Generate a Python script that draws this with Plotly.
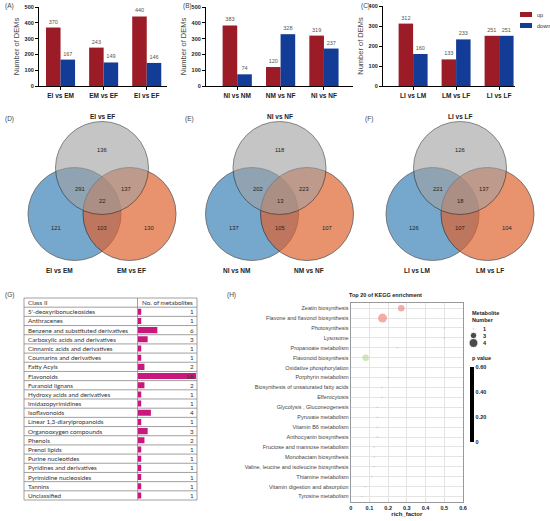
import plotly.graph_objects as go

W, H = 550, 521

# (A)-(C) numbers of DEMs
groups_a = ['EI vs EM', 'EM vs EF', 'EI vs EF']
up_a = [370, 243, 440]
down_a = [167, 149, 146]
groups_b = ['NI vs NM', 'NM vs NF', 'NI vs NF']
up_b = [383, 120, 319]
down_b = [74, 328, 237]
groups_c = ['LI vs LM', 'LM vs LF', 'LI vs LF']
up_c = [312, 133, 251]
down_c = [160, 233, 251]

# (D)-(F) Venn: sets [top, left, right],
# counts [top, top&left, top&right, all, left, left&right, right]
venn_sets_d = ['EI vs EF', 'EI vs EM', 'EM vs EF']
venn_counts_d = [136, 291, 137, 22, 121, 103, 130]
venn_sets_e = ['NI vs NF', 'NI vs NM', 'NM vs NF']
venn_counts_e = [118, 202, 223, 13, 137, 105, 107]
venn_sets_f = ['LI vs LF', 'LI vs LM', 'LM vs LF']
venn_counts_f = [126, 221, 137, 18, 126, 107, 104]

# (G) class II table
class_ii = ["5'-deoxyribonucleosides", 'Anthracenes', 'Benzene and substituted derivatives',
            'Carboxylic acids and derivatives', 'Cinnamic acids and derivatives',
            'Coumarins and derivatives', 'Fatty Acyls', 'Flavonoids', 'Furanoid lignans',
            'Hydroxy acids and derivatives', 'Imidazopyrimidines', 'Isoflavonoids',
            'Linear 1,3-diarylpropanoids', 'Organooxygen compounds', 'Phenols', 'Prenol lipids',
            'Purine nucleotides', 'Pyridines and derivatives', 'Pyrimidine nucleosides',
            'Tannins', 'Unclassified']
n_metabolites = [1, 1, 6, 3, 1, 1, 2, 18, 2, 1, 1, 4, 1, 3, 2, 1, 1, 1, 1, 1, 1]

# (H) KEGG enrichment
pathways = ['Zeatin biosynthesis', 'Flavone and flavonol biosynthesis', 'Photosynthesis',
            'Lysosome', 'Propanoate metabolism', 'Flavonoid biosynthesis',
            'Oxidative phosphorylation', 'Porphyrin metabolism',
            'Biosynthesis of unsaturated fatty acids', 'Efferocytosis',
            'Glycolysis , Gluconeogenesis', 'Pyruvate metabolism', 'Vitamin B6 metabolism',
            'Anthocyanin biosynthesis', 'Fructose and mannose metabolism',
            'Monobactam biosynthesis', 'Valine, leucine and isoleucine biosynthesis',
            'Thiamine metabolism', 'Vitamin digestion and absorption', 'Tyrosine metabolism']
rich_factor = [0.27, 0.17, 0.5, 0.5, 0.25, 0.08, 0.2, 0.2, 0.167, 0.167,
               0.143, 0.143, 0.143, 0.143, 0.125, 0.125, 0.125, 0.111, 0.077, 0.059]
metab_number = [3, 4, 1, 1, 1, 3, 1, 1, 1, 1, 1, 1, 1, 1, 1, 1, 1, 1, 1, 1]
p_value = [0.02, 0.01, 0.6, 0.6, 0.6, 0.3, 0.6, 0.6, 0.6, 0.6,
           0.6, 0.6, 0.6, 0.6, 0.6, 0.6, 0.6, 0.6, 0.6, 0.6]
size_legend = [1, 3, 4]

FONT = 'Liberation Sans'
RED, BLUE = '#9B1C26', '#123C96'


def fx(p):
    return p / W


def fy(p):
    return 1 - p / H


def dot_size(n):
    return 2.5 * n - 1


fig = go.Figure()
layout = {}
ann = []
shapes = []


def note(x, y, text, size=6, bold=False, color='#333', xanchor='center', family=FONT):
    ann.append(dict(x=x, y=y, xref='x6', yref='y6', text=text, showarrow=False,
                    xanchor=xanchor, yanchor='middle',
                    font=dict(size=size, color=color, family=family,
                              weight='bold' if bold else 'normal')))


# ---- bar panels
bar_panels = [
    ('', groups_a, up_a, down_a, 500, (39, 167), [-0.5, 2.47], '(A)', 3),
    ('2', groups_b, up_b, down_b, 500, (206, 353), [-0.72, 2.67], '(B)', 181),
    ('3', groups_c, up_c, down_c, 400, (383, 515), [-0.7, 2.37], '(C)', 359),
]
for k, groups, up, down, ymax, (x0, x1), xr, lab, lab_x in bar_panels:
    for name, vals, col in [('up', up, RED), ('down', down, BLUE)]:
        fig.add_trace(go.Bar(x=groups, y=vals, name=name, marker_color=col,
                             marker_line_width=0, text=vals, textposition='outside',
                             textfont=dict(size=5.5, color='#555', family=FONT),
                             cliponaxis=False, showlegend=False,
                             xaxis='x' + k, yaxis='y' + k))
    layout['xaxis' + k] = dict(domain=[fx(x0), fx(x1)], anchor='y' + k, range=xr,
                               showline=True, linecolor='black', linewidth=1.2,
                               ticks='outside', ticklen=3, tickcolor='black', automargin=False,
                               tickfont=dict(size=6.5, family=FONT, color='#222', weight='bold'))
    top = 7 if ymax == 500 else 6
    layout['yaxis' + k] = dict(domain=[fy(86), fy(top)], anchor='x' + k, range=[0, ymax],
                               dtick=100, showline=True, linecolor='black', linewidth=1.2,
                               ticks='outside', ticklen=3, tickcolor='black', showgrid=False,
                               zeroline=False, automargin=False,
                               tickfont=dict(size=5.5, family=FONT, color='#222', weight='bold'),
                               title=dict(text='Number of DEMs', standoff=3,
                                          font=dict(size=7.5, family=FONT, color='#444')))
    note(lab_x, 6, lab, size=6.5, color='#444', xanchor='left')

# legend for up/down
for name, col, yy in [('up', RED, 14.5), ('down', BLUE, 25.5)]:
    shapes.append(dict(type='rect', xref='x6', yref='y6', x0=520, x1=532,
                       y0=yy - 2.5, y1=yy + 2.5, fillcolor=col, line_width=0))
    note(534.5, yy, name, size=5.6, color='#333', xanchor='left')

# ---- Venn panels
venn_panels = [(102, venn_sets_d, venn_counts_d, '(D)', 3),
               (279.5, venn_sets_e, venn_counts_e, '(E)', 183),
               (460, venn_sets_f, venn_counts_f, '(F)', 363)]
R = 46.5
for tx, sets, counts, lab, lab_x in venn_panels:
    ty = 168
    circles = [(tx - 27.5, ty + 46, '#2E7BB5', 0.65),
               (tx + 27.5, ty + 46, '#E0612A', 0.68),
               (tx, ty, '#A0A0A0', 0.6)]
    for cx, cy, col, op in circles:
        shapes.append(dict(type='circle', xref='x6', yref='y6', x0=cx - R, x1=cx + R,
                           y0=cy - R, y1=cy + R, fillcolor=col, opacity=op,
                           line=dict(color='#222', width=0.9), layer='below'))
    offsets = [(0, -18), (-22, 21), (24, 21), (0, 33), (-46, 60), (0, 60), (47, 60)]
    for (dx, dy), c in zip(offsets, counts):
        note(tx + dx, ty + dy, str(c), size=5.8, color='#222')
    note(tx, 116, sets[0], size=6.5, bold=True, color='#222')
    note(tx - 43, 270, sets[1], size=6.5, bold=True, color='#222')
    note(tx + 29.5, 270, sets[2], size=6.5, bold=True, color='#222')
    note(lab_x, 119, lab, size=6.5, color='#444', xanchor='left')

# ---- (G) table
t_top, t_bot, t_l, t_mid, t_r = 298, 500, 24, 137.5, 197
rh = (t_bot - t_top) / (len(class_ii) + 1)
fig.add_trace(go.Bar(x=n_metabolites, y=class_ii, orientation='h', marker_color='#C9177E',
                     marker_line_width=0, width=0.66, showlegend=False,
                     xaxis='x4', yaxis='y4'))
layout['xaxis4'] = dict(domain=[fx(t_mid + 0.5), fx(t_r)], anchor='y4', range=[0, 18.3],
                        visible=False, fixedrange=True, automargin=False)
layout['yaxis4'] = dict(domain=[fy(t_bot), fy(t_top + rh)], anchor='x4', automargin=False,
                        range=[len(class_ii) - 0.5, -0.5], visible=False, fixedrange=True)
for i in range(len(class_ii) + 2):
    yy = t_top + i * rh
    shapes.append(dict(type='line', xref='x6', yref='y6', x0=t_l, x1=t_r, y0=yy, y1=yy,
                       line=dict(color='#888', width=0.8), layer='above'))
for xx in (t_l, t_mid, t_r):
    shapes.append(dict(type='line', xref='x6', yref='y6', x0=xx, x1=xx, y0=t_top, y1=t_bot,
                       line=dict(color='#888', width=0.8), layer='above'))
note(t_l + 2, t_top + rh / 2, 'Class II', size=6.3, color='#333', xanchor='left', family='Lato')
note(t_mid + 2, t_top + rh / 2, 'No. of metabolites', size=6.3, color='#333',
     xanchor='left', family='Lato')
for i, (c, n) in enumerate(zip(class_ii, n_metabolites)):
    yy = t_top + (i + 1.5) * rh
    note(t_l + 2, yy, c, size=6.3, color='#333', xanchor='left', family='Lato')
    note(t_r - 1, yy, str(n), size=6.3, color='#333', xanchor='right', family='Lato')
note(3, 295, '(G)', size=6.5, color='#444', xanchor='left')

# ---- (H) KEGG bubbles
dot_colors = ['#F08A84' if p < 0.05 else ('#B9DB9A' if p < 0.5 else '#BDBDBD')
              for p in p_value]
fig.add_trace(go.Scatter(x=rich_factor, y=pathways, mode='markers', showlegend=False,
                         marker=dict(size=[dot_size(n) for n in metab_number],
                                     color=dot_colors, line_width=0),
                         cliponaxis=False, xaxis='x5', yaxis='y5'))
fig.add_trace(go.Scatter(x=[None], y=[None], mode='markers', showlegend=False,
                         marker=dict(color=[0.3], cmin=0, cmax=0.6,
                                     colorscale=[[0, 'black'], [1, 'black']], showscale=True,
                                     colorbar=dict(x=fx(470), xanchor='left', y=fy(367),
                                                   yanchor='top', len=75 / H, thickness=4,
                                                   xpad=0, ypad=0, outlinewidth=0, ticks='',
                                                   tickvals=[0, 0.2, 0.4, 0.6],
                                                   ticktext=['0', '0.20', '0.40', '0.60'],
                                                   tickfont=dict(size=5.5, family=FONT,
                                                                 color='#222', weight='bold'))),
                         xaxis='x5', yaxis='y5'))
layout['xaxis5'] = dict(domain=[fx(350.7), fx(463)], anchor='y5', range=[0, 0.6], dtick=0.1,
                        showgrid=True, gridcolor='#E4E4E4', gridwidth=1.3, zeroline=False,
                        showline=True, mirror=True, linecolor='#999', linewidth=1,
                        tickformat='.1~f', ticks='', automargin=False,
                        tickfont=dict(size=5.5, family=FONT, color='#222', weight='bold'),
                        title=dict(text='rich_factor', standoff=1,
                                   font=dict(size=6, family=FONT, color='#222', weight='bold')))
layout['yaxis5'] = dict(domain=[fy(502), fy(302.7)], anchor='x5', range=[19.55, -0.55],
                        showgrid=True, gridcolor='#E4E4E4', gridwidth=1.3, zeroline=False,
                        showline=True, mirror=True, linecolor='#999', linewidth=1, ticks='',
                        automargin=False, tickfont=dict(size=5.5, family=FONT, color='#444'))
note(385, 295, 'Top 20 of KEGG enrichment', size=5.5, bold=True, color='#222')
note(225, 295, '(H)', size=6.5, color='#444', xanchor='left')
ann.append(dict(x=470, y=316, xref='x6', yref='y6', text='Metabolite<br>Number',
                showarrow=False, xanchor='left', yanchor='middle', align='left',
                font=dict(size=5.5, family=FONT, color='#222', weight='bold')))
note(470, 358, 'p value', size=5.5, bold=True, color='#222', xanchor='left')
leg_y = [329, 335.5, 343]
fig.add_trace(go.Scatter(x=[473.5] * 3, y=leg_y, mode='markers', showlegend=False,
                         marker=dict(size=[dot_size(n) for n in size_legend], color='black'),
                         cliponaxis=False, xaxis='x6', yaxis='y6', hoverinfo='skip'))
for n, yy in zip(size_legend, leg_y):
    note(481, yy, str(n), size=5.5, bold=True, color='#222', xanchor='left')

# overlay axis in pixel units
layout['xaxis6'] = dict(domain=[0, 1], range=[0, W], visible=False, fixedrange=True,
                        anchor='y6', automargin=False)
layout['yaxis6'] = dict(domain=[0, 1], range=[H, 0], visible=False, fixedrange=True,
                        anchor='x6', automargin=False)

fig.update_layout(**layout)
fig.update_layout(width=W, height=H, autosize=False, margin=dict(l=0, r=0, t=0, b=0),
                  barmode='group', bargap=0.326, bargroupgap=0,
                  paper_bgcolor='white', plot_bgcolor='rgba(0,0,0,0)',
                  annotations=ann, shapes=shapes, showlegend=False,
                  font=dict(family=FONT))
fig.write_html("out.html", config={'displayModeBar': False},
               post_script="document.body.style.margin='0';"
                           "document.body.style.overflow='hidden';")
